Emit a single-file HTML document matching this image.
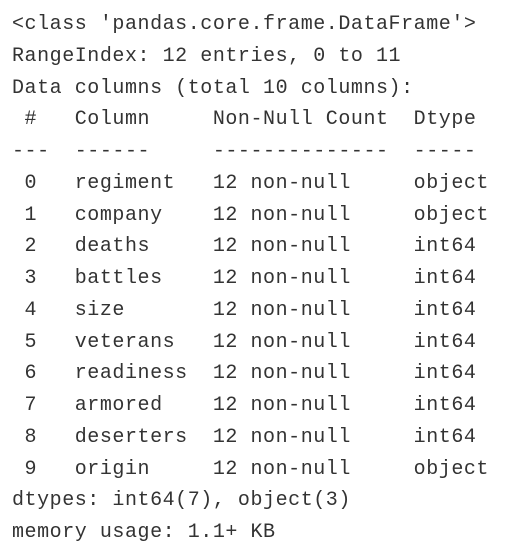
<!DOCTYPE html>
<html><head><meta charset="utf-8"><style>
html,body{margin:0;padding:0;background:#fff;width:518px;height:554px;overflow:hidden}
pre{margin:0;position:absolute;left:12px;top:9px;font-family:"Liberation Mono",monospace;font-size:20px;letter-spacing:0.55px;line-height:31.75px;color:#333}
</style></head><body>
<pre>&lt;class 'pandas.core.frame.DataFrame'&gt;
RangeIndex: 12 entries, 0 to 11
Data columns (total 10 columns):
 #   Column     Non-Null Count  Dtype 
---  ------     --------------  ----- 
 0   regiment   12 non-null     object
 1   company    12 non-null     object
 2   deaths     12 non-null     int64 
 3   battles    12 non-null     int64 
 4   size       12 non-null     int64 
 5   veterans   12 non-null     int64 
 6   readiness  12 non-null     int64 
 7   armored    12 non-null     int64 
 8   deserters  12 non-null     int64 
 9   origin     12 non-null     object
dtypes: int64(7), object(3)
memory usage: 1.1+ KB</pre>
</body></html>
